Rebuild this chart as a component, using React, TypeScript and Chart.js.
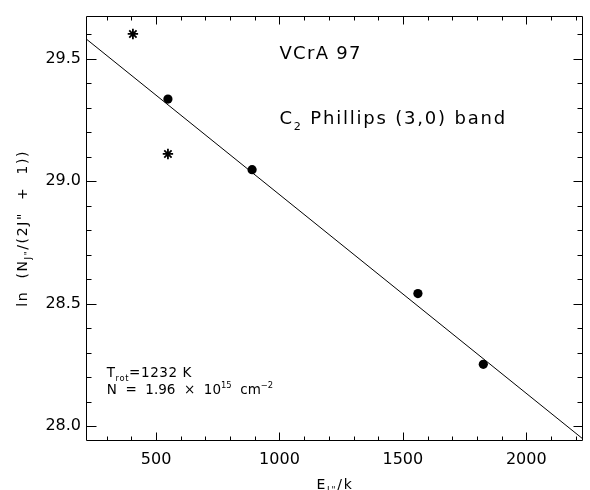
import React, { useEffect, useRef } from 'react';
import { Chart, registerables } from 'chart.js';

Chart.register(...registerables);

// ---- data ----
const fitPointsX = [548, 889, 1561, 1826];
const fitPointsY = [29.335, 29.047, 28.541, 28.252];
const excludedX = [406, 548];
const excludedY = [29.601, 29.111];
const fitLineX = [220, 2230];
const fitLineY = [29.578, 27.947];

const xRange = [220, 2230];
const yRange = [27.939, 29.676];
const xTickValues = [500, 1000, 1500, 2000];
const yTickValues = [28.0, 28.5, 29.0, 29.5];
const xMinorStep = 100;
const yMinorStep = 0.1;

const titleText = 'VCrA 97';
const bandText = ['C', '2', ' Phillips (3,0) band'];
const tempText = ['T', 'rot', '=1232 K'];
const colText = ['N  =  1.96  ×  10', '15', '  cm', '−2'];
const xTitle = ['E', 'J"', '/k'];
const yTitle = ['ln  (N', 'J"', '/(2J"  +  1))'];

// annotation anchors in data coordinates
const titlePos = { x: 1000, y: 29.497 };
const bandPos = { x: 1000, y: 29.232 };
const tempPos = { x: 300, y: 28.199 };
const colPos = { x: 300, y: 28.129 };

const FAMILY = '"DejaVu Sans", "Liberation Sans", sans-serif';
const WEIGHT = 400;

type Seg = { t: string; m?: 'sub' | 'sup' };

function drawRich(
  ctx: CanvasRenderingContext2D,
  segs: Seg[],
  x: number,
  y: number,
  size: number,
  spacing: number,
  align: 'left' | 'center'
) {
  ctx.save();
  (ctx as any).letterSpacing = spacing + 'px';
  const fontFor = (m?: string) => `${WEIGHT} ${m ? size * 0.62 : size}px ${FAMILY}`;
  let w = 0;
  const widths: number[] = [];
  for (const s of segs) {
    ctx.font = fontFor(s.m);
    const mw = ctx.measureText(s.t).width;
    widths.push(mw);
    w += mw;
  }
  let cx = align === 'center' ? x - w / 2 : x;
  ctx.textAlign = 'left';
  ctx.textBaseline = 'alphabetic';
  ctx.fillStyle = '#000';
  segs.forEach((s, i) => {
    ctx.font = fontFor(s.m);
    const dy = s.m === 'sub' ? size * 0.3 : s.m === 'sup' ? -size * 0.45 : 0;
    ctx.fillText(s.t, cx, y + dy);
    cx += widths[i];
  });
  ctx.restore();
}

const framePlugin = {
  id: 'idlFrame',
  afterDraw(chart: any) {
    const ctx: CanvasRenderingContext2D = chart.ctx;
    const xs = chart.scales.x;
    const ys = chart.scales.y;
    const { left, right, top, bottom } = chart.chartArea;
    ctx.save();
    ctx.strokeStyle = '#000';
    ctx.lineWidth = 1;
    const L = Math.round(left) - 0.5;
    const R = Math.round(right) - 0.5;
    const T = Math.round(top) + 0.5;
    const B = Math.round(bottom) - 0.5;
    ctx.beginPath();
    ctx.rect(L, T, R - L, B - T);
    ctx.stroke();
    ctx.beginPath();
    // x ticks
    const x0 = Math.ceil(xRange[0] / xMinorStep) * xMinorStep;
    for (let v = x0; v <= xRange[1]; v += xMinorStep) {
      const px = Math.round(xs.getPixelForValue(v)) + 0.5;
      const major = v % 500 === 0;
      const len = major ? 8 : 4;
      ctx.moveTo(px, B);
      ctx.lineTo(px, B - len);
      ctx.moveTo(px, T);
      ctx.lineTo(px, T + len);
    }
    // y ticks
    const n0 = Math.ceil(yRange[0] / yMinorStep);
    const n1 = Math.floor(yRange[1] / yMinorStep);
    for (let n = n0; n <= n1; n++) {
      const v = n * yMinorStep;
      const py = Math.round(ys.getPixelForValue(v)) + 0.5;
      const major = n % 5 === 0;
      ctx.moveTo(L, py);
      ctx.lineTo(L + (major ? 10 : 5), py);
      ctx.moveTo(R, py);
      ctx.lineTo(R - (major ? 9 : 5), py);
    }
    ctx.stroke();
    ctx.restore();

    // annotations
    drawRich(ctx, [{ t: titleText }], xs.getPixelForValue(titlePos.x), ys.getPixelForValue(titlePos.y), 18, 1.3, 'left');
    drawRich(
      ctx,
      [{ t: bandText[0] }, { t: bandText[1], m: 'sub' }, { t: bandText[2] }],
      xs.getPixelForValue(bandPos.x),
      ys.getPixelForValue(bandPos.y),
      18,
      1.8,
      'left'
    );
    drawRich(
      ctx,
      [{ t: tempText[0] }, { t: tempText[1], m: 'sub' }, { t: tempText[2] }],
      xs.getPixelForValue(tempPos.x),
      ys.getPixelForValue(tempPos.y),
      13.5,
      0.6,
      'left'
    );
    drawRich(
      ctx,
      [{ t: colText[0] }, { t: colText[1], m: 'sup' }, { t: colText[2] }, { t: colText[3], m: 'sup' }],
      xs.getPixelForValue(colPos.x),
      ys.getPixelForValue(colPos.y),
      13.5,
      0,
      'left'
    );
    // axis titles
    drawRich(
      ctx,
      [{ t: xTitle[0] }, { t: xTitle[1], m: 'sub' }, { t: xTitle[2] }],
      (left + right) / 2,
      489,
      14,
      1.8,
      'center'
    );
    ctx.save();
    ctx.translate(27, (top + bottom) / 2);
    ctx.rotate(-Math.PI / 2);
    drawRich(
      ctx,
      [{ t: yTitle[0] }, { t: yTitle[1], m: 'sub' }, { t: yTitle[2] }],
      0,
      0,
      14,
      1.6,
      'center'
    );
    ctx.restore();
  },
};

export default function App() {
  const ref = useRef<HTMLCanvasElement | null>(null);

  useEffect(() => {
    if (!ref.current) return;
    const tickFont = { family: FAMILY, size: 16, weight: WEIGHT as any };
    const chart = new Chart(ref.current, {
      type: 'scatter',
      data: {
        datasets: [
          {
            type: 'line',
            data: fitLineX.map((x, i) => ({ x, y: fitLineY[i] })),
            borderColor: '#000',
            borderWidth: 1,
            pointRadius: 0,
            fill: false,
          } as any,
          {
            data: fitPointsX.map((x, i) => ({ x, y: fitPointsY[i] })),
            pointStyle: 'circle',
            pointRadius: 4.6,
            backgroundColor: '#000',
            borderColor: '#000',
            borderWidth: 0,
          },
          {
            data: excludedX.map((x, i) => ({ x, y: excludedY[i] })),
            pointStyle: 'star',
            pointRadius: 5.2,
            backgroundColor: '#000',
            borderColor: '#000',
            borderWidth: 1.8,
          },
        ],
      },
      options: {
        animation: false,
        responsive: false,
        devicePixelRatio: 1,
        layout: { padding: { top: 13, right: 1, left: 0, bottom: 0 } },
        plugins: {
          legend: { display: false },
          tooltip: { enabled: false },
          title: { display: false },
        },
        scales: {
          x: {
            type: 'linear',
            min: xRange[0],
            max: xRange[1],
            grid: { display: false, drawTicks: false },
            border: { display: false },
            ticks: {
              font: tickFont,
              color: '#000',
              padding: 9,
              maxRotation: 0,
              callback: (v: any) => String(v),
            },
            afterBuildTicks: (s: any) => {
              s.ticks = xTickValues.map((v) => ({ value: v }));
            },
            afterFit: (s: any) => {
              s.height = 49;
            },
          },
          y: {
            type: 'linear',
            min: yRange[0],
            max: yRange[1],
            grid: { display: false, drawTicks: false },
            border: { display: false },
            ticks: {
              font: tickFont,
              color: '#000',
              padding: 6,
              callback: (v: any) => Number(v).toFixed(1),
            },
            afterBuildTicks: (s: any) => {
              s.ticks = yTickValues.map((v) => ({ value: v }));
            },
            afterFit: (s: any) => {
              s.width = 87;
            },
          },
        },
      },
      plugins: [framePlugin],
    });
    return () => chart.destroy();
  }, []);

  return (
    <div style={{ position: 'absolute', left: 0, top: 0, width: 590, height: 490, background: '#fff' }}>
      <canvas ref={ref} width={590} height={490} style={{ width: 590, height: 490, display: 'block' }} />
    </div>
  );
}
